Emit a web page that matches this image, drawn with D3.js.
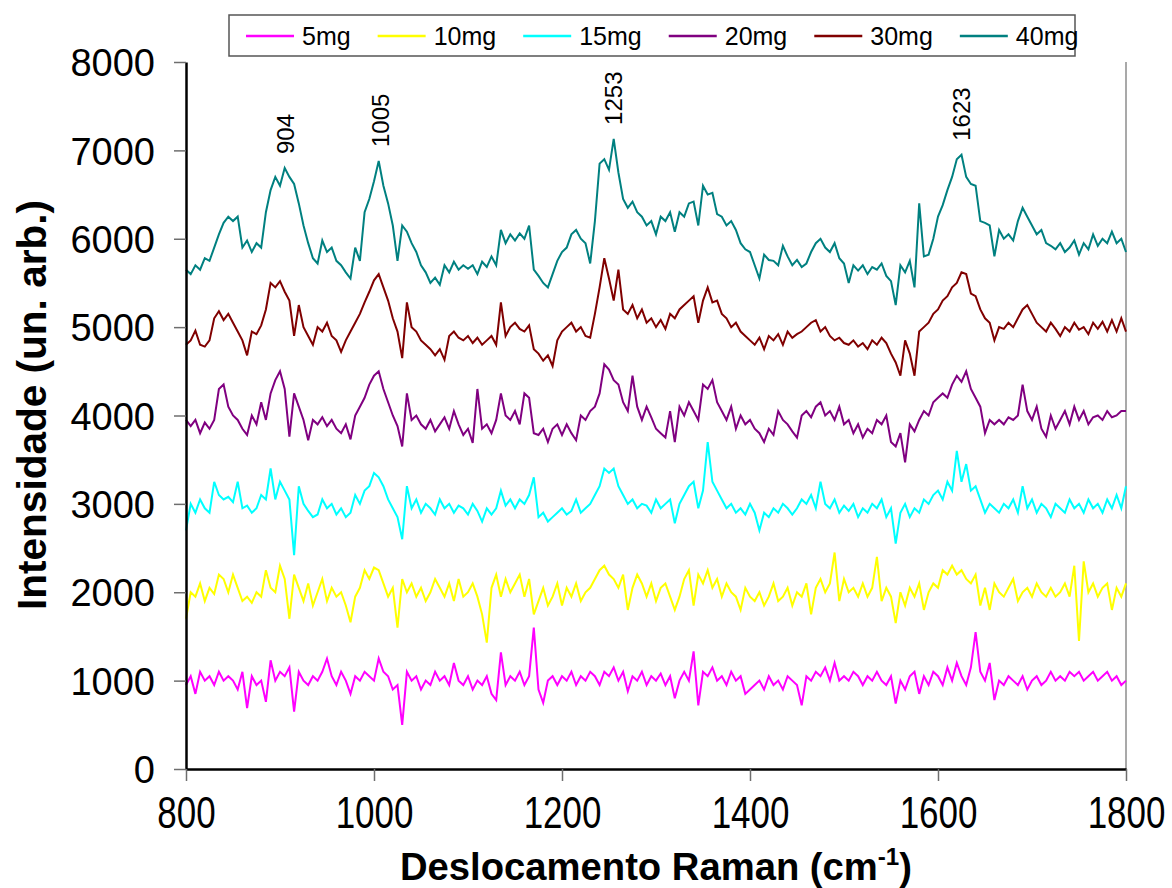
<!DOCTYPE html>
<html>
<head>
<meta charset="utf-8">
<script src="https://cdn.jsdelivr.net/npm/d3@7"></script>
<style>
body { margin: 0; background: #fff; }
text { font-family: Arial, "Liberation Sans", sans-serif; }
</style>
</head>
<body>
<div id="chart"></div>
<script>
// sampling grid of the spectra (cm-1), one point every 5 cm-1
var shifts = d3.range(800, 1805, 5);

var mg5 = [950,1050,850,1100,1000,1050,950,1100,1000,1050,
    1000,900,1100,690,1050,950,1000,760,1230,1000,
    1100,1050,1150,650,1100,1000,950,1050,1000,1100,
    1250,1050,950,1100,1000,850,1050,1000,1100,1050,
    1000,1250,1100,1050,900,950,500,1100,1000,1050,
    900,1000,950,1100,1000,1050,950,1200,1000,950,
    1050,900,1000,950,1050,850,780,1320,950,1050,
    1000,1100,950,1050,1600,900,750,1000,1050,950,
    1050,1000,1100,950,1050,1000,1100,1050,950,1100,
    1050,1150,1000,1100,880,1050,1000,1100,950,1050,
    1000,1080,950,1050,800,1000,1100,1000,1330,720,
    1100,1050,1150,1000,1050,950,1100,1000,1050,850,
    900,950,1000,900,1050,950,1000,900,1050,1000,
    950,720,1050,1000,1100,1050,1150,1000,1200,1000,
    1050,1000,1100,1050,950,1050,1000,1100,1000,950,
    1050,740,1000,900,1050,1100,850,1050,950,1100,
    1050,950,1150,1000,1200,1050,950,1150,1550,1100,
    1000,1200,780,1000,950,1050,1000,950,1050,900,
    1000,1050,950,1000,1100,1000,1050,1000,1100,1050,
    1100,1000,1050,1100,1000,1050,1100,1000,1050,950,
    1000];

var mg10 = [1700,2000,1950,2100,1900,2050,1980,2200,2150,2000,
    2200,2050,1900,1950,1880,2000,1950,2250,2050,2000,
    2300,2150,1700,2200,2050,1900,2100,1850,2000,2150,
    1900,2050,1950,2000,1850,1660,1950,2050,2250,2150,
    2280,2250,2100,1950,2050,1600,2150,2000,2100,1950,
    2050,1900,2000,2150,2050,1950,2100,1900,2150,1950,
    2000,2100,1950,1750,1430,2050,2200,1950,2150,2000,
    2100,2200,1950,2150,1750,1900,2050,1850,1950,2100,
    1850,2050,1950,2100,1900,2000,2050,2150,2250,2300,
    2200,2150,2050,2200,1800,2050,2200,2100,1950,2100,
    1900,2050,2100,1950,1800,1950,2150,2250,1850,2200,
    2100,2250,2050,2150,1950,2100,2000,1950,1800,2050,
    1950,1900,2000,1850,1950,2100,1900,1950,2050,1850,
    2000,1950,2100,1750,2050,2150,2000,2100,2450,1900,
    2150,2000,2050,1950,2100,1950,2050,2400,1900,2050,
    1950,1650,2000,1850,2050,1950,2100,1800,2000,2100,
    2050,2250,2200,2300,2200,2250,2150,2100,2200,1850,
    2050,1800,2100,2000,1950,2050,2150,1900,2000,2050,
    1950,2100,2000,1950,2050,1950,2000,2100,1950,2300,
    1450,2350,2000,2100,1950,2050,2100,1800,2050,1950,
    2100];

var mg15 = [2700,3000,2900,3050,2950,2900,3250,3100,3050,3080,
    3020,3250,2950,2980,2900,2950,3100,3050,3400,3050,
    3250,3150,3050,2420,3200,3000,2920,2850,2880,3050,
    2950,3000,2880,2950,2850,2900,3100,3000,3150,3200,
    3350,3300,3200,3050,2950,2850,2600,3200,2950,3050,
    2900,3000,2950,2880,3050,2950,3000,2900,2980,2950,
    2880,3000,2920,2800,2950,2880,2950,3150,2980,3050,
    2950,3050,3000,3100,3300,2850,2900,2800,2850,2900,
    2950,2880,2920,3050,2900,2950,3000,3100,3200,3400,
    3350,3400,3200,3100,3000,3050,2950,3000,2980,2900,
    3050,2950,3000,3050,2780,3000,3100,3200,3250,2950,
    3150,3700,3250,3150,3050,2950,3000,2900,2950,2880,
    3000,2900,2700,2900,2850,2950,2900,3000,2950,2880,
    2950,3050,3000,3100,2950,3250,3000,2950,3050,2900,
    2980,2920,3000,2850,2950,2900,3000,2950,3050,2850,
    2950,2550,2900,3000,2850,2950,2900,3050,3000,3100,
    3150,3050,3250,3150,3600,3250,3450,3150,3200,3050,
    2900,3000,2950,2900,3000,2950,3050,2900,3200,2950,
    3050,2900,3000,2950,2850,3000,2950,2900,3050,2950,
    3000,2900,3050,2950,3000,2900,3050,2950,3100,2950,
    3200];

var mg20 = [3950,3880,3950,3800,3920,3850,3950,4300,4350,4100,
    4000,3950,3850,3780,4000,3900,4150,3950,4250,4400,
    4500,4300,3760,4250,4100,3950,3720,3950,3900,3980,
    3880,3950,3850,3800,3900,3730,4000,4100,4200,4350,
    4450,4500,4300,4150,4000,3880,3650,4250,3950,4000,
    3900,3850,3950,3820,3900,3980,3850,4050,3900,3780,
    3850,3690,4300,3850,3900,3800,3950,4250,4000,3950,
    4050,3900,4250,4200,3800,3780,3850,3700,3850,3900,
    3780,3900,3800,3720,4000,3950,4050,4100,4250,4580,
    4520,4400,4350,4150,4050,4450,4100,3950,4100,3980,
    3850,3800,3750,4050,3700,4100,4000,4150,4050,3950,
    4350,4300,4400,4150,4050,3950,4100,3850,4000,3900,
    3950,3850,3800,3700,3850,3780,4050,3950,3900,3820,
    3750,4000,4050,3980,4100,4150,4000,4050,3950,4100,
    3900,3950,3800,3900,3750,3850,3800,3950,3900,4000,
    3700,3650,3800,3470,3900,3820,3950,4050,4000,4150,
    4200,4250,4200,4350,4450,4380,4500,4300,4200,4100,
    3800,3950,3900,3950,3900,3980,3950,4000,4350,4050,
    3950,4100,3850,3760,4000,3850,3950,4050,3900,4100,
    3950,4050,3900,3980,4000,3950,4050,3980,4000,4050,
    4050];

var mg30 = [4800,4850,4960,4800,4780,4850,5100,5180,5080,5150,
    5050,4950,4850,4680,4950,4920,5020,5200,5500,5450,
    5520,5400,5300,4900,5250,5000,4900,4800,5000,4950,
    5050,4900,4850,4720,4850,4950,5050,5150,5280,5400,
    5530,5600,5450,5300,5100,4950,4650,5280,5000,4950,
    4850,4800,4750,4680,4750,4630,4900,4950,4880,4850,
    4900,4820,4880,4800,4850,4900,4800,5280,4900,5000,
    5050,4980,4950,5020,4750,4700,4620,4680,4560,4850,
    4950,5000,5050,4950,5000,4900,4880,5150,5450,5780,
    5550,5300,5650,5200,5150,5250,5100,5200,5050,5100,
    5000,5080,4980,5150,5100,5200,5250,5300,5350,5050,
    5300,5450,5280,5300,5150,5100,5000,5050,4950,4900,
    4850,4800,4880,4750,4900,4850,4920,4800,4950,4880,
    4920,4950,5000,5050,5080,4950,5000,4900,4850,4880,
    4820,4800,4850,4780,4820,4750,4850,4800,4880,4820,
    4700,4600,4450,4850,4700,4450,4950,5000,5050,5150,
    5200,5300,5350,5450,5500,5620,5600,5380,5350,5200,
    5100,5050,4850,5000,4980,5050,5000,5100,5200,5250,
    5150,5050,5000,4950,5050,4980,4900,5000,4950,5050,
    4970,5000,4920,5050,4980,5060,4950,5080,4950,5100,
    4950];

var mg40 = [5650,5600,5700,5650,5780,5750,5900,6050,6180,6250,
    6200,6250,5900,5980,5850,5950,5900,6300,6550,6700,
    6600,6800,6700,6620,6400,6150,5950,5780,5720,5980,
    5850,5900,5750,5700,5620,5550,5900,5750,6300,6450,
    6650,6880,6600,6400,6150,5750,6150,6080,5950,5850,
    5700,5620,5500,5560,5480,5700,5620,5740,5650,5700,
    5660,5700,5600,5740,5680,5800,5700,6100,5950,6050,
    5980,6060,6000,6150,5650,5580,5500,5450,5600,5750,
    5850,5900,6050,6100,6000,5950,5720,6200,6850,6900,
    6780,7130,6750,6450,6350,6420,6300,6250,6150,6200,
    6050,6250,6200,6300,6080,6300,6250,6400,6420,6150,
    6600,6500,6520,6280,6250,6150,6200,6100,5950,5880,
    5850,5700,5550,5820,5760,5750,5700,5920,5800,5700,
    5760,5680,5720,5850,5950,6000,5900,5850,5950,5780,
    5720,5500,5700,5640,5700,5600,5680,5650,5720,5580,
    5520,5250,5700,5620,5750,5450,6400,5800,5820,6000,
    6250,6380,6550,6700,6900,6950,6700,6620,6600,6200,
    6180,6150,5800,6100,6000,6050,5980,6200,6350,6250,
    6150,6050,6100,5950,5920,5880,5950,5850,5900,5980,
    5820,5950,5880,6050,5920,6000,5950,6080,5950,6000,
    5850];

var seriesNames = ["5mg", "10mg", "15mg", "20mg", "30mg", "40mg"];
var seriesColors = ["#ff00ff", "#ffff00", "#00ffff", "#800080", "#800000", "#008080"];
var peaks = [904, 1005, 1253, 1623];
var xTicks = [800, 1000, 1200, 1400, 1600, 1800];
var yTicks = [0, 1000, 2000, 3000, 4000, 5000, 6000, 7000, 8000];

var width = 1172;
var height = 888;
var margin = {top: 62, right: 46, bottom: 119, left: 186};

var x = d3.scaleLinear()
          .domain([800, 1800])
          .range([margin.left, width - margin.right]);

var y = d3.scaleLinear()
          .domain([0, 8000])
          .range([height - margin.bottom, margin.top]);

var series = [mg5, mg10, mg15, mg20, mg30, mg40].map(function(vals, i) {
    return {
        name: seriesNames[i],
        color: seriesColors[i],
        points: vals.map((v, j) => ({shift: shifts[j], value: v}))
    };
});

var svg = d3.select("#chart")
            .append("svg")
            .attr("width", width)
            .attr("height", height)
            .style("display", "block");

svg.append("rect")
   .attr("width", width)
   .attr("height", height)
   .attr("fill", "#fff");

// right frame line
svg.append("line")
   .attr("x1", x(1800)).attr("x2", x(1800))
   .attr("y1", y(8000)).attr("y2", y(0))
   .attr("stroke", "#8c8c8c")
   .attr("stroke-width", 1.5);

// spectra
var line = d3.line()
             .x(d => x(d.shift))
             .y(d => y(d.value));

svg.append("g")
   .selectAll("path")
   .data(series)
   .enter()
   .append("path")
   .attr("d", d => line(d.points))
   .attr("fill", "none")
   .attr("stroke", d => d.color)
   .attr("stroke-width", 2)
   .attr("stroke-linejoin", "miter");

// axes
var yAxis = svg.append("g")
               .attr("transform", "translate(" + margin.left + ",0)")
               .call(d3.axisLeft(y).tickValues(yTicks).tickFormat(d3.format("d"))
                       .tickSize(12).tickSizeOuter(0).tickPadding(19));

var xAxis = svg.append("g")
               .attr("transform", "translate(0," + y(0) + ")")
               .call(d3.axisBottom(x).tickValues(xTicks).tickFormat(d3.format("d"))
                       .tickSize(12).tickSizeOuter(0).tickPadding(16));

[yAxis, xAxis].forEach(function(a) {
    a.select(".domain").attr("stroke", "#000").attr("stroke-width", 2.5);
    a.selectAll(".tick line").attr("stroke", "#6e6e6e").attr("stroke-width", 1.5);
    a.selectAll(".tick text")
     .attr("fill", "#000")
     .style("font-size", "38px");
});

yAxis.selectAll(".tick text").attr("dy", "0.36em");
xAxis.selectAll(".tick text")
     .attr("dy", "0.72em")
     .attr("transform", "scale(0.92,1.15)")
     .attr("y", (12 + 16) / 1.15);

// axis titles
svg.append("text")
   .attr("transform", "translate(46," + 405 + ") rotate(-90)")
   .attr("text-anchor", "middle")
   .attr("textLength", 410)
   .attr("lengthAdjust", "spacingAndGlyphs")
   .style("font-size", "40px")
   .style("font-weight", "bold")
   .text("Intensidade (un. arb.)");

var xt = svg.append("text")
            .attr("x", 656)
            .attr("y", 880)
            .attr("text-anchor", "middle")
            .attr("textLength", 512)
            .attr("lengthAdjust", "spacingAndGlyphs")
            .style("font-size", "38px")
            .style("font-weight", "bold");
xt.append("tspan").text("Deslocamento Raman (cm");
xt.append("tspan").attr("dy", -15).style("font-size", "24px").text("-1");
xt.append("tspan").attr("dy", 15).text(")");

// peak labels above the 40mg trace
svg.append("g")
   .selectAll("text")
   .data(peaks)
   .enter()
   .append("text")
   .attr("transform", function(p) {
       var top = d3.max(mg40.filter((v, j) => Math.abs(shifts[j] - p) <= 6));
       return "translate(" + (x(p) + 10) + "," + (y(top) - 14) + ") rotate(-90)";
   })
   .style("font-size", "24px")
   .text(p => p);

// legend
var legend = svg.append("g");

legend.append("rect")
      .attr("x", 229)
      .attr("y", 15)
      .attr("width", 846)
      .attr("height", 41)
      .attr("fill", "#fff")
      .attr("stroke", "#555")
      .attr("stroke-width", 1.5);

var lx = 246;
series.forEach(function(s) {
    legend.append("line")
          .attr("x1", lx).attr("x2", lx + 48)
          .attr("y1", 36).attr("y2", 36)
          .attr("stroke", s.color)
          .attr("stroke-width", 2.5);
    var t = legend.append("text")
                  .attr("x", lx + 56)
                  .attr("y", 45)
                  .style("font-size", "25px")
                  .text(s.name);
    lx += 56 + t.node().getComputedTextLength() + 27;
});
</script>
</body>
</html>
